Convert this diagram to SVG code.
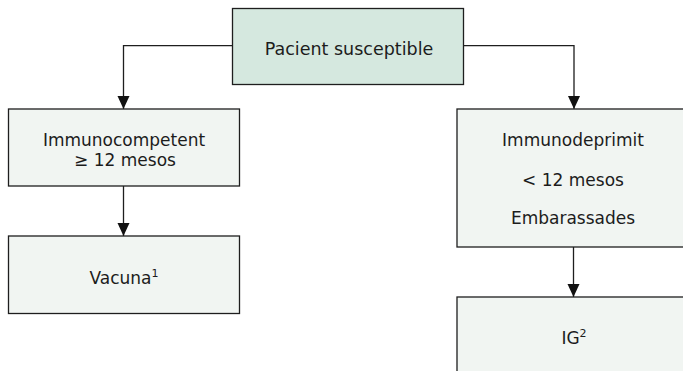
<svg xmlns="http://www.w3.org/2000/svg" width="683" height="371" viewBox="0 0 683 371">
  <style>
    .box { fill: #f1f5f2; stroke: #1e1e1e; stroke-width: 1.3; }
    .root { fill: #d5e8df; }
    .lbl { font-family: "DejaVu Sans", "Liberation Sans", sans-serif; font-size: 17px; fill: #1c1c1c; text-anchor: middle; }
    .sup { font-size: 11px; }
    .wire { fill: none; stroke: #1e1e1e; stroke-width: 1.3; }
  </style>
  <defs>
    <marker id="arrow" markerUnits="userSpaceOnUse" markerWidth="12" markerHeight="14" refX="13" refY="6" orient="auto">
      <path d="M0,0 L13,6 L0,12 Z" fill="#111"/>
    </marker>
  </defs>
  <rect width="683" height="371" fill="#ffffff"/>

  <g id="connectors">
    <path class="wire" d="M232.5,45.7 H123.5 V109" marker-end="url(#arrow)"/>
    <path class="wire" d="M463.5,45.7 H574 V109" marker-end="url(#arrow)"/>
    <path class="wire" d="M123.5,186 V236" marker-end="url(#arrow)"/>
    <path class="wire" d="M573.5,247 V297" marker-end="url(#arrow)"/>
  </g>

  <g id="pacient">
    <rect class="box root" x="232.5" y="8.5" width="231" height="76"/>
    <text class="lbl" x="349" y="55" style="font-size:17.5px">Pacient susceptible</text>
  </g>

  <g id="immunocompetent">
    <rect class="box" x="8.5" y="109" width="231" height="77"/>
    <text class="lbl" x="124" y="146">Immunocompetent</text>
    <text class="lbl" x="125" y="166">≥ 12 mesos</text>
  </g>

  <g id="vacuna">
    <rect class="box" x="8.5" y="236" width="231" height="77.5"/>
    <text class="lbl" x="124" y="284">Vacuna<tspan class="sup" dy="-7">1</tspan></text>
  </g>

  <g id="immunodeprimit">
    <rect class="box" x="457" y="109" width="233" height="138"/>
    <text class="lbl" x="573" y="146">Immunodeprimit</text>
    <text class="lbl" x="573" y="186">&lt; 12 mesos</text>
    <text class="lbl" x="573" y="224">Embarassades</text>
  </g>

  <g id="ig">
    <rect class="box" x="457" y="297" width="233" height="80"/>
    <text class="lbl" x="574" y="344">IG<tspan class="sup" dy="-7">2</tspan></text>
  </g>
</svg>
